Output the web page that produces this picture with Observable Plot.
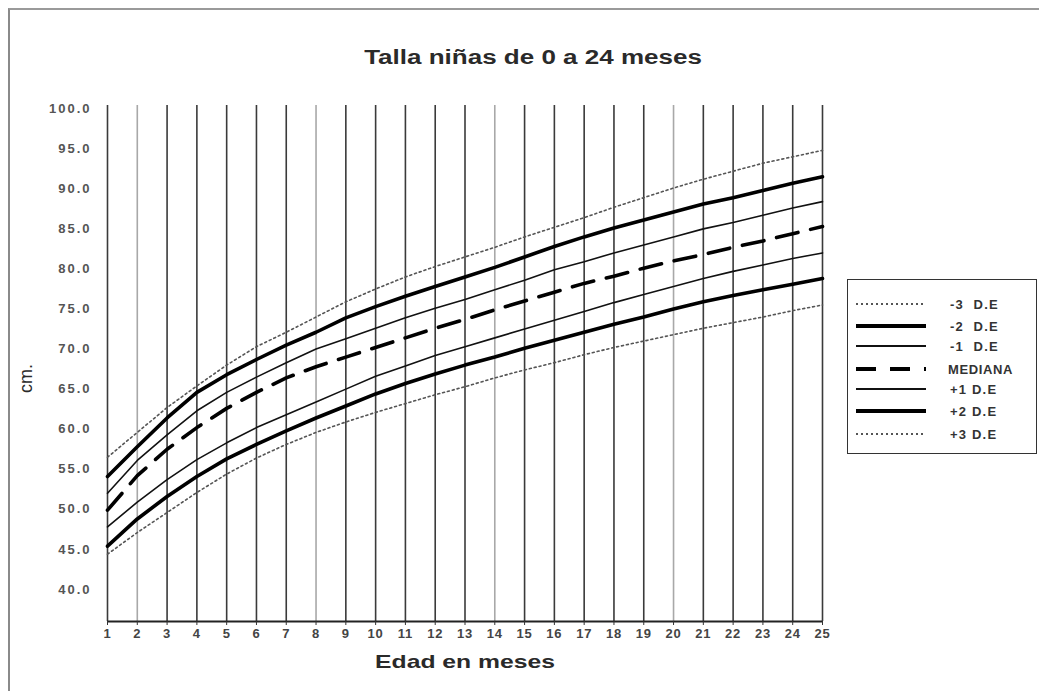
<!DOCTYPE html>
<html>
<head>
<meta charset="utf-8">
<script src="https://cdn.jsdelivr.net/npm/d3@7"></script>
<script src="https://cdn.jsdelivr.net/npm/@observablehq/plot@0.6"></script>
<style>
  html, body { margin: 0; padding: 0; background: #fff; }
  #wrap { position: relative; width: 1039px; height: 699px; overflow: hidden; font-family: "Liberation Sans", Arial, sans-serif; }
  #frame { position: absolute; left: 8px; top: 8px; width: 1040px; height: 683px; border-left: 2px solid #8a8a8a; border-top: 2px solid #9a9a9a; box-sizing: border-box; }
  #title { position: absolute; left: 333px; width: 400px; top: 46px; text-align: center; font-size: 20px; font-weight: bold; color: #2a2a2a; white-space: nowrap; transform: scaleX(1.3); }
  #ylab { position: absolute; left: 12px; top: 368px; transform: rotate(-90deg); font-size: 18px; color: #2a2a2a; }
  #xlab { position: absolute; left: 365px; width: 200px; top: 651px; text-align: center; font-size: 19px; font-weight: bold; color: #2a2a2a; white-space: nowrap; transform: scaleX(1.3); }
  #chart { position: absolute; left: 0; top: 0; }
  #legend { position: absolute; left: 847px; top: 279px; width: 190px; height: 175px; border: 1.5px solid #333; box-sizing: border-box; background: #fff; }
</style>
</head>
<body>
<div id="wrap">
  <div id="frame"></div>
  <div id="chart"></div>
  <div id="title">Talla niñas de 0 a 24 meses</div>
  <div id="ylab">cm.</div>
  <div id="xlab">Edad en meses</div>
  <div id="legend"></div>
</div>
<script>
// ---- data ----
const months = [1,2,3,4,5,6,7,8,9,10,11,12,13,14,15,16,17,18,19,20,21,22,23,24,25];
const yTicks = [40,45,50,55,60,65,70,75,80,85,90,95,100];

const plus3  = [56.5,59.6,62.7,65.4,68.0,70.3,72.1,74.0,75.9,77.5,79.0,80.3,81.5,82.7,84.0,85.2,86.4,87.7,88.9,90.1,91.2,92.2,93.2,94.0,94.8];
const plus2  = [54.1,57.8,61.4,64.6,66.8,68.7,70.5,72.1,73.9,75.3,76.6,77.8,79.0,80.2,81.5,82.8,84.0,85.1,86.1,87.1,88.1,88.9,89.8,90.7,91.5];
const plus1  = [52.0,56.1,59.3,62.3,64.6,66.5,68.3,70.0,71.3,72.6,73.9,75.1,76.2,77.4,78.6,79.9,80.9,82.0,83.0,84.0,85.0,85.8,86.7,87.6,88.4];
const median = [49.9,54.2,57.5,60.2,62.6,64.6,66.4,67.8,69.0,70.2,71.4,72.6,73.7,74.9,76.0,77.1,78.2,79.1,80.1,81.0,81.8,82.7,83.5,84.4,85.3];
const minus1 = [47.8,50.9,53.7,56.2,58.3,60.2,61.8,63.4,65.0,66.6,67.9,69.2,70.3,71.4,72.5,73.6,74.7,75.8,76.8,77.8,78.8,79.7,80.5,81.3,82.0];
const minus2 = [45.4,48.8,51.6,54.1,56.3,58.1,59.8,61.4,62.9,64.4,65.7,66.9,68.0,69.0,70.1,71.1,72.1,73.1,74.0,75.0,75.9,76.7,77.4,78.1,78.8];
const minus3 = [44.4,47.1,49.6,52.1,54.4,56.4,58.1,59.6,60.9,62.1,63.2,64.3,65.3,66.4,67.4,68.3,69.3,70.2,71.0,71.8,72.6,73.3,74.0,74.8,75.5];

const seriesNames = ["-3  D.E", "-2  D.E", "-1  D.E", "MEDIANA", "+1 D.E", "+2 D.E", "+3 D.E"];
const seriesValues = [minus3, minus2, minus1, median, plus1, plus2, plus3];

// ---- styles ----
const styleOf = {
  "-3  D.E": {stroke: "#555", strokeWidth: 1.6, strokeDasharray: "2,3"},
  "-2  D.E": {stroke: "#000", strokeWidth: 3.6},
  "-1  D.E": {stroke: "#111", strokeWidth: 1.6},
  "MEDIANA": {stroke: "#000", strokeWidth: 3.6, strokeDasharray: "22,13"},
  "+1 D.E":  {stroke: "#111", strokeWidth: 1.6},
  "+2 D.E":  {stroke: "#000", strokeWidth: 3.6},
  "+3 D.E":  {stroke: "#555", strokeWidth: 1.6, strokeDasharray: "2,3"}
};
const lightGrid = [2, 8, 14, 20];

const table = seriesNames.map((name, i) => months.map((m, j) => ({name, month: m, cm: seriesValues[i][j]})));

const lineMarks = table.map((rows, i) => Plot.line(rows, {x: "month", y: "cm", curve: "linear", ...styleOf[seriesNames[i]]}));

const chart = Plot.plot({
  width: 1039,
  height: 699,
  marginLeft: 107,
  marginRight: 217,
  marginTop: 105,
  marginBottom: 78,
  style: {fontFamily: "Liberation Sans, Arial, sans-serif", fontSize: "12.5px", fontWeight: "bold", color: "#333", background: "transparent"},
  x: {domain: [1, 25], label: null},
  y: {domain: [36, 100.4], label: null},
  marks: [
    Plot.ruleX(months, {stroke: d => lightGrid.includes(d) ? "#a8a8a8" : "#3a3a3a", strokeWidth: 1.6}),
    Plot.ruleY([36], {stroke: "#222", strokeWidth: 2}),
    Plot.axisX(months, {tickSize: 4, tickPadding: 3, tickFormat: d => String(d), stroke: "#333", fill: "#444", fontSize: 13}),
    Plot.axisY(yTicks, {tickSize: 0, tickPadding: 16, tickFormat: d => d.toFixed(1), fill: "#555", fontSize: 13}),
    ...lineMarks
  ]
});
document.getElementById("chart").appendChild(chart);
// widen tick label glyphs like the reference
d3.select(chart).selectAll("g[aria-label='y-axis tick label'] text").attr("letter-spacing", "2px");
d3.select(chart).selectAll("g[aria-label='x-axis tick label'] text").attr("letter-spacing", "0.8px");

// ---- legend ----
const rowY = [24, 46, 66, 89, 109, 131, 154];
const lg = d3.select("#legend").append("svg").attr("width", 188).attr("height", 172);
seriesNames.forEach((name, i) => {
  const s = styleOf[name];
  lg.append("line")
    .attr("x1", 8).attr("x2", 78)
    .attr("y1", rowY[i]).attr("y2", rowY[i])
    .attr("stroke", s.stroke)
    .attr("stroke-width", s.strokeWidth + 0.6)
    .attr("stroke-dasharray", name === "MEDIANA" ? "20,14" : (s.strokeDasharray || null));
  lg.append("text")
    .attr("x", name === "MEDIANA" ? 100 : 102).attr("y", rowY[i] + 5)
    .attr("font-family", "Liberation Sans, Arial, sans-serif")
    .attr("font-size", 13)
    .attr("font-weight", "bold")
    .attr("letter-spacing", name === "MEDIANA" ? "0.6px" : "1.2px")
    .attr("fill", "#333")
    .attr("xml:space", "preserve")
    .style("white-space", "pre")
    .text(name);
});
</script>
</body>
</html>
